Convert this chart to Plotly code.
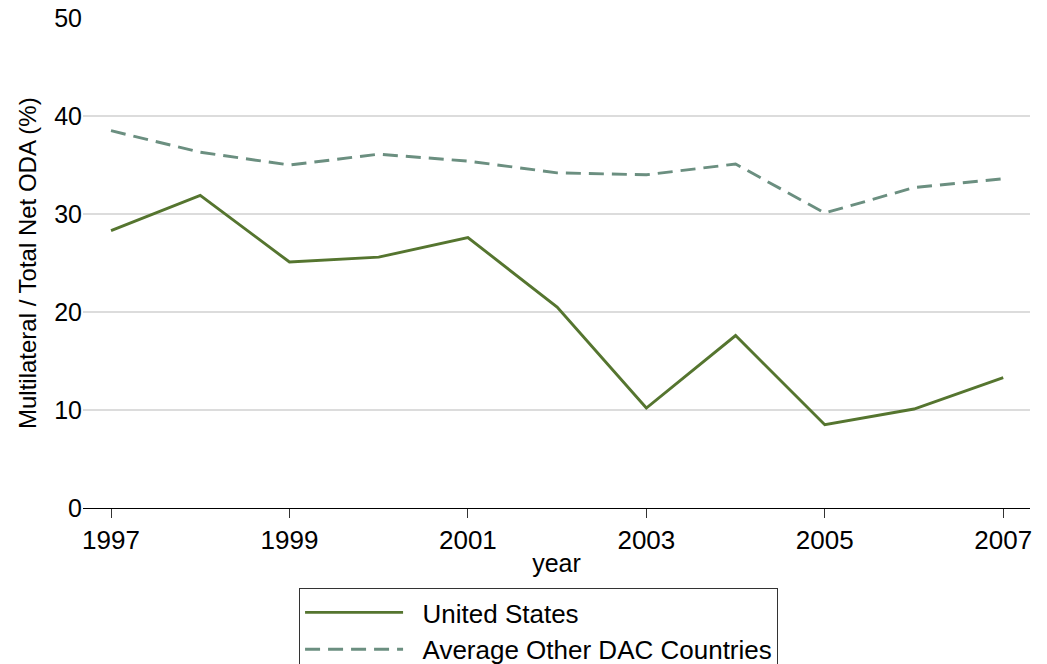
import plotly.graph_objects as go

years = [1997, 1998, 1999, 2000, 2001, 2002, 2003, 2004, 2005, 2006, 2007]
us_share = [28.3, 31.9, 25.1, 25.6, 27.6, 20.5, 10.2, 17.6, 8.5, 10.1, 13.3]
dac_share = [38.5, 36.3, 35.0, 36.1, 35.4, 34.2, 34.0, 35.1, 30.1, 32.7, 33.6]
x_ticks = [1997, 1999, 2001, 2003, 2005, 2007]
y_ticks = [0, 10, 20, 30, 40, 50]
grid_ticks = [10, 20, 30, 40]

FONT = "Liberation Sans, Arial, sans-serif"
NB = "\u00a0\u00a0"

fig = go.Figure()
fig.add_trace(go.Scatter(x=years, y=us_share, mode="lines", name=NB + "United States",
                         line=dict(color="#55752f", width=2.9)))
fig.add_trace(go.Scatter(x=years, y=dac_share, mode="lines", name=NB + "Average Other DAC Countries",
                         line=dict(color="#6b8f80", width=2.9, dash="15px,8px")))
# invisible trace to hold the grid-only axis
fig.add_trace(go.Scatter(x=[years[0]], y=[0], yaxis="y2", showlegend=False,
                         mode="markers", marker=dict(opacity=0), hoverinfo="skip"))

fig.update_layout(
    width=1047, height=664,
    margin=dict(l=75, r=25, t=10, b=164, autoexpand=False),
    paper_bgcolor="white", plot_bgcolor="white",
    font=dict(family=FONT, color="black", size=24),
    xaxis=dict(range=[1996.686, 2007.30], tickvals=x_ticks, ticks="outside", ticklen=9,
               tickcolor="#333333", tickwidth=1.2, showgrid=False, zeroline=False,
               showline=True, linecolor="black", linewidth=1.2, ticklabeloverflow="allow",
               tickfont=dict(size=26), title=dict(text="year", font=dict(size=25), standoff=0)),
    yaxis=dict(range=[0, 50], tickvals=y_ticks, showgrid=False, zeroline=False,
               showline=False, ticks="", tickfont=dict(size=25), ticklabeloverflow="allow"),
    yaxis2=dict(range=[0, 50], overlaying="y", tickvals=grid_ticks, showticklabels=False,
                showgrid=True, gridcolor="#dcdcdc", gridwidth=1.5, zeroline=False, ticks=""),
    legend=dict(xref="container", yref="container", x=0.278, y=0.1265,
                xanchor="left", yanchor="top",
                bordercolor="#333333", borderwidth=1, bgcolor="white",
                font=dict(size=26), itemwidth=98, tracegroupgap=0),
    annotations=[dict(text="Multilateral / Total Net ODA (%)", textangle=-90,
                      xref="paper", yref="paper", x=-0.0591, y=0.5,
                      xanchor="center", yanchor="middle", showarrow=False,
                      font=dict(size=24, family=FONT, color="black"))],
    showlegend=True,
)
fig.write_html("out.html")
